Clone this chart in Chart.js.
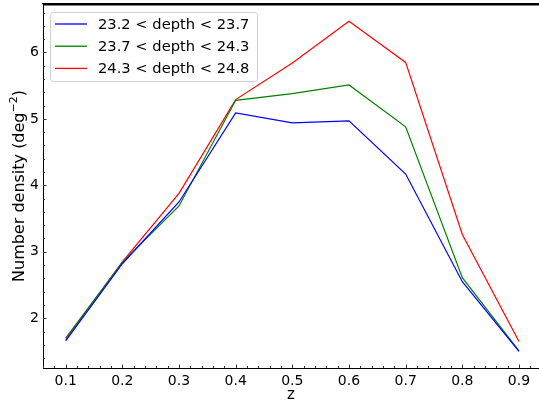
<!DOCTYPE html>
<html>
<head>
<meta charset="utf-8">
<script src="https://cdn.jsdelivr.net/npm/chart.js@4.4.0/dist/chart.umd.min.js"></script>
<style>
  html, body { margin: 0; padding: 0; overflow: hidden; background: #fff; }
  #wrap { width: 539px; height: 406px; }
  canvas { display: block; }
</style>
</head>
<body>
<div id="wrap"><canvas id="chart" width="539" height="406"></canvas></div>
<script>
// values
var zValues = [0.1, 0.2, 0.3, 0.4, 0.5, 0.6, 0.7, 0.8, 0.9];
var densLow = [1.66, 2.82, 3.75, 5.09, 4.94, 4.97, 4.17, 2.55, 1.50];
var densMid = [1.70, 2.84, 3.69, 5.28, 5.38, 5.51, 4.88, 2.61, 1.51];
var densHigh = [1.68, 2.85, 3.88, 5.29, 5.84, 6.47, 5.85, 3.26, 1.65];
var seriesLabels = ['23.2 < depth < 23.7', '23.7 < depth < 24.3', '24.3 < depth < 24.8'];
var xTickLabels = [0.1, 0.2, 0.3, 0.4, 0.5, 0.6, 0.7, 0.8, 0.9];
var yTickLabels = [2, 3, 4, 5, 6];
var yTitle = ['Number density (deg', '\u22122', ')'];

var FONT = 'DejaVu Sans';

function toPoints(vals) {
    return zValues.map(function (z, i) { return {x: z, y: vals[i]}; });
}

function minorTicks(min, max, step) {
    var out = [];
    var start = Math.ceil(min / step - 1e-9);
    for (var k = start; k * step <= max + 1e-9; k++) {
        out.push(+(k * step).toFixed(4));
    }
    return out;
}

// inward ticks, top spine, y title with superscript and the boxed legend
var decorations = {
    id: 'decorations',
    afterDraw: function (chart) {
        var ctx = chart.ctx;
        var xs = chart.scales.x;
        var ys = chart.scales.y;
        var area = chart.chartArea;
        ctx.save();

        // top spine
        ctx.fillStyle = '#000';
        ctx.fillRect(area.left, Math.round(area.top), area.right - area.left, 1.5);

        ctx.strokeStyle = '#333';
        ctx.lineWidth = 1;
        minorTicks(xs.min, xs.max, 0.02).forEach(function (v) {
            var px = Math.round(xs.getPixelForValue(v)) + 0.5;
            var major = xTickLabels.some(function (t) { return Math.abs(t - v) < 1e-6; });
            var len = major ? 3.5 : 2;
            ctx.beginPath();
            ctx.moveTo(px, area.bottom);
            ctx.lineTo(px, area.bottom - len);
            ctx.stroke();
        });
        minorTicks(ys.min, ys.max, 0.2).forEach(function (v) {
            var py = Math.round(ys.getPixelForValue(v)) + 0.5;
            var major = yTickLabels.some(function (t) { return Math.abs(t - v) < 1e-6; });
            var len = major ? 3.5 : 2;
            ctx.beginPath();
            ctx.moveTo(area.left, py);
            ctx.lineTo(area.left + len, py);
            ctx.stroke();
        });

        // y axis title, rotated, with a raised exponent
        var big = '16px "' + FONT + '"';
        var small = '11px "' + FONT + '"';
        ctx.font = big;
        var w0 = ctx.measureText(yTitle[0]).width;
        var w2 = ctx.measureText(yTitle[2]).width;
        ctx.font = small;
        var w1 = ctx.measureText(yTitle[1]).width;
        var total = w0 + w1 + w2;
        ctx.save();
        ctx.translate(18, (area.top + area.bottom) / 2);
        ctx.rotate(-Math.PI / 2);
        ctx.fillStyle = '#000';
        ctx.textBaseline = 'alphabetic';
        ctx.textAlign = 'left';
        var sx = -total / 2;
        ctx.font = big;
        ctx.fillText(yTitle[0], sx, 6);
        ctx.font = small;
        ctx.fillText(yTitle[1], sx + w0, -1);
        ctx.font = big;
        ctx.fillText(yTitle[2], sx + w0 + w1, 6);
        ctx.restore();

        // legend
        var bx = 50.5, by = 12.5, bw = 207, bh = 69, r = 3;
        ctx.fillStyle = 'rgba(255,255,255,0.8)';
        ctx.strokeStyle = '#d0d0d0';
        ctx.beginPath();
        ctx.moveTo(bx + r, by);
        ctx.lineTo(bx + bw - r, by);
        ctx.arcTo(bx + bw, by, bx + bw, by + r, r);
        ctx.lineTo(bx + bw, by + bh - r);
        ctx.arcTo(bx + bw, by + bh, bx + bw - r, by + bh, r);
        ctx.lineTo(bx + r, by + bh);
        ctx.arcTo(bx, by + bh, bx, by + bh - r, r);
        ctx.lineTo(bx, by + r);
        ctx.arcTo(bx, by, bx + r, by, r);
        ctx.closePath();
        ctx.fill();
        ctx.stroke();

        ctx.font = '14.7px "' + FONT + '"';
        ctx.textBaseline = 'middle';
        ctx.textAlign = 'left';
        chart.data.datasets.forEach(function (ds, i) {
            var cy = 24 + i * 22.2;
            ctx.strokeStyle = ds.borderColor;
            ctx.lineWidth = 1.3;
            ctx.beginPath();
            ctx.moveTo(55, cy);
            ctx.lineTo(87, cy);
            ctx.stroke();
            ctx.fillStyle = '#000';
            ctx.fillText(ds.label, 98, cy + 1);
        });
        ctx.restore();
    }
};

function lineSet(label, vals, color) {
    return {
        label: label,
        data: toPoints(vals),
        borderColor: color,
        backgroundColor: color,
        borderWidth: 1.2,
        pointRadius: 0,
        tension: 0,
        fill: false
    };
}

var ctx = document.getElementById('chart');
new Chart(ctx, {
    type: 'line',
    data: {
        datasets: [
            lineSet(seriesLabels[0], densLow, '#0000ff'),
            lineSet(seriesLabels[1], densMid, '#008000'),
            lineSet(seriesLabels[2], densHigh, '#ff0000')
        ]
    },
    options: {
        responsive: false,
        animation: false,
        layout: { padding: { top: 4, right: 0, left: 0, bottom: 0 } },
        plugins: {
            legend: { display: false },
            tooltip: { enabled: false }
        },
        scales: {
            x: {
                type: 'linear',
                min: 0.06,
                max: 0.9353,
                afterBuildTicks: function (scale) {
                    scale.ticks = xTickLabels.map(function (v) { return {value: v}; });
                },
                afterFit: function (scale) {
                    scale.height = 38;
                    scale.paddingLeft = 0;
                    scale.paddingRight = 0;
                },
                grid: { display: false, drawTicks: false },
                border: { display: true, color: '#000', width: 1 },
                ticks: {
                    autoSkip: false,
                    maxRotation: 0,
                    padding: 5,
                    color: '#000',
                    font: { family: FONT, size: 14 },
                    callback: function (v) { return v.toFixed(1); }
                },
                title: {
                    display: true,
                    text: 'z',
                    color: '#000',
                    font: { family: FONT, size: 15 },
                    padding: { top: 0, bottom: 2 }
                }
            },
            xTop: {
                type: 'linear',
                position: 'top',
                min: 0.06,
                max: 0.9353,
                afterFit: function (scale) {
                    scale.height = 0;
                    scale.paddingLeft = 0;
                    scale.paddingRight = 0;
                },
                grid: { display: false, drawTicks: false },
                border: { display: true, color: '#000', width: 1.2 },
                ticks: { display: false }
            },
            y: {
                type: 'linear',
                min: 1.251,
                max: 6.729,
                afterBuildTicks: function (scale) {
                    scale.ticks = yTickLabels.map(function (v) { return {value: v}; });
                },
                afterFit: function (scale) {
                    scale.width = 43;
                    scale.paddingTop = 0;
                    scale.paddingBottom = 0;
                },
                grid: { display: false, drawTicks: false },
                border: { display: true, color: '#000', width: 1 },
                ticks: {
                    autoSkip: false,
                    padding: 4,
                    color: '#000',
                    font: { family: FONT, size: 14 },
                    callback: function (v) { return String(v); }
                },
                title: { display: false }
            }
        }
    },
    plugins: [decorations]
});
</script>
</body>
</html>
